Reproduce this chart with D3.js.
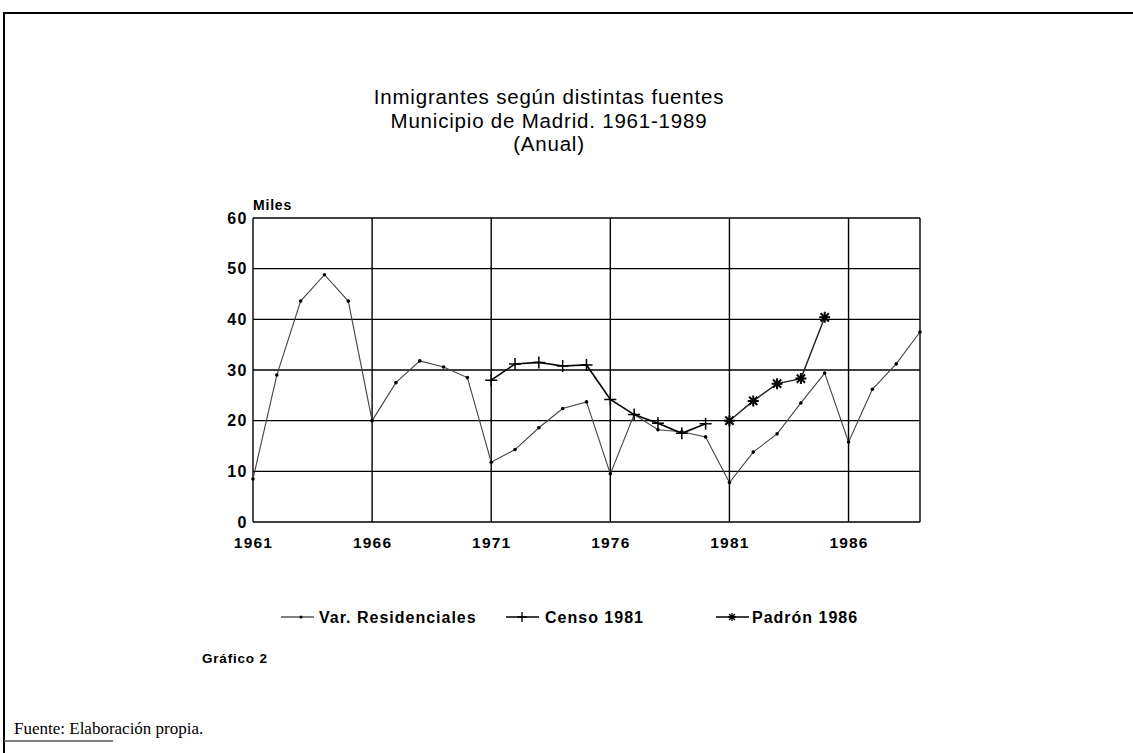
<!DOCTYPE html>
<html>
<head>
<meta charset="utf-8">
<script src="https://cdn.jsdelivr.net/npm/d3@7"></script>
<style>
  body { margin:0; background:#fff; }
  svg { display:block; }
</style>
</head>
<body>
<script>
// Inmigrantes segun distintas fuentes - Madrid 1961-1989

var outerWidth = 1133,
    outerHeight = 753,
    margin = {left:253,right:213,top:218,bottom:231},
    innerWidth = outerWidth-margin.left-margin.right,
    innerHeight = outerHeight-margin.top-margin.bottom;

var titleLines = ['Inmigrantes según distintas fuentes','Municipio de Madrid. 1961-1989','(Anual)'];
var yTicks = [0,10,20,30,40,50,60];
var xTicks = [1961,1966,1971,1976,1981,1986];

var varYears = d3.range(1961,1990);
var varValues = [8.5,29,43.6,48.8,43.6,20,27.5,31.8,30.6,28.5,
                 11.8,14.3,18.6,22.4,23.7,9.5,21.2,18.2,17.8,16.8,
                 7.8,13.8,17.4,23.5,29.4,15.8,26.2,31.2,37.5];

var censoYears = [1971,1972,1973,1974,1975,1976,1977,1978,1979,1980];
var censoValues = [28,31.2,31.5,30.8,31,24.2,21.2,19.5,17.5,19.4];

var padronYears = [1981,1982,1983,1984,1985];
var padronValues = [20,23.9,27.3,28.3,40.4];

var legendLabels = ['Var. Residenciales','Censo 1981','Padrón 1986'];

var svg = d3.select('body').append('svg')
  .attr('width',outerWidth)
  .attr('height',outerHeight);

var sans = 'Liberation Sans, Arial, sans-serif';

// marco
svg.append('path')
  .attr('d','M4,753 L4,13 L1133,13')
  .attr('fill','none').attr('stroke','#000').attr('stroke-width',2);
svg.append('line')
  .attr('x1',4).attr('x2',113).attr('y1',741).attr('y2',741)
  .attr('stroke','#555').attr('stroke-width',1.5);

// titulo
svg.append('g').selectAll('text').data(titleLines).enter().append('text')
  .attr('x',549)
  .attr('y',function(d,i){return 104+i*23.5;})
  .attr('text-anchor','middle')
  .style('font-family',sans)
  .style('font-size','20.5px')
  .style('letter-spacing','0.8px')
  .text(function(d){return d;});

var g = svg.append('g')
  .attr('transform','translate('+margin.left+','+margin.top+')');

var xScale = d3.scaleLinear().domain([1961,1989]).range([0,innerWidth]);
var yScale = d3.scaleLinear().domain([0,60]).range([innerHeight,0]);

// rejilla horizontal
g.selectAll('.hgrid').data(yTicks).enter().append('line')
  .attr('class','hgrid')
  .attr('x1',0).attr('x2',innerWidth)
  .attr('y1',function(d){return yScale(d);})
  .attr('y2',function(d){return yScale(d);})
  .attr('stroke','#000').attr('stroke-width',1.4);

// rejilla vertical
g.selectAll('.vgrid').data(xTicks.concat([1989])).enter().append('line')
  .attr('class','vgrid')
  .attr('x1',function(d){return xScale(d);})
  .attr('x2',function(d){return xScale(d);})
  .attr('y1',0).attr('y2',innerHeight)
  .attr('stroke','#000').attr('stroke-width',1.4);

// ejes
var yAxis = d3.axisLeft(yScale).tickValues(yTicks).tickSize(0).tickPadding(5);
var yg = g.append('g').call(yAxis);
yg.select('.domain').remove();
yg.selectAll('text')
  .style('font-family',sans).style('font-size','16px').style('font-weight','bold')
  .style('letter-spacing','1.5px');

var xAxis = d3.axisBottom(xScale).tickValues(xTicks).tickSize(0).tickPadding(15)
  .tickFormat(d3.format('d'));
var xg = g.append('g').attr('transform','translate(0,'+innerHeight+')').call(xAxis);
xg.select('.domain').remove();
xg.selectAll('text')
  .style('font-family',sans).style('font-size','15.5px').style('font-weight','bold')
  .style('letter-spacing','1.2px');

g.append('text')
  .attr('x',0).attr('y',-8)
  .style('font-family',sans).style('font-size','14px').style('font-weight','bold')
  .style('letter-spacing','0.8px')
  .text('Miles');

// series
var line = d3.line()
  .x(function(d){return xScale(d[0]);})
  .y(function(d){return yScale(d[1]);});

var varData = d3.zip(varYears,varValues);
var censoData = d3.zip(censoYears,censoValues);
var padronData = d3.zip(padronYears,padronValues);

g.append('path').datum(varData)
  .attr('d',line).attr('fill','none')
  .attr('stroke','#444').attr('stroke-width',1.1);
g.selectAll('.dot').data(varData).enter().append('circle')
  .attr('class','dot')
  .attr('cx',function(d){return xScale(d[0]);})
  .attr('cy',function(d){return yScale(d[1]);})
  .attr('r',1.8).attr('fill','#000');

g.append('path').datum(censoData)
  .attr('d',line).attr('fill','none')
  .attr('stroke','#000').attr('stroke-width',1.6);

function plusPath(s){ return 'M'+(-s)+',0H'+s+'M0,'+(-s)+'V'+s; }
function starPath(s){
  var d = 'M'+(-s)+',0H'+s+'M0,'+(-s)+'V'+s;
  var k = s*0.75;
  d += 'M'+(-k)+','+(-k)+'L'+k+','+k+'M'+(-k)+','+k+'L'+k+','+(-k);
  return d;
}

g.selectAll('.plus').data(censoData).enter().append('path')
  .attr('class','plus')
  .attr('transform',function(d){return 'translate('+xScale(d[0])+','+yScale(d[1])+')';})
  .attr('d',plusPath(6))
  .attr('stroke','#000').attr('stroke-width',1.5).attr('fill','none');

g.append('path').datum(padronData)
  .attr('d',line).attr('fill','none')
  .attr('stroke','#222').attr('stroke-width',1.4);
g.selectAll('.star').data(padronData).enter().append('path')
  .attr('class','star')
  .attr('transform',function(d){return 'translate('+xScale(d[0])+','+yScale(d[1])+')';})
  .attr('d',starPath(5.5))
  .attr('stroke','#000').attr('stroke-width',2).attr('fill','none');

// leyenda
var legendX = [281,506,716];
var leg = svg.append('g').selectAll('g').data(legendLabels).enter().append('g')
  .attr('transform',function(d,i){return 'translate('+legendX[i]+',617)';});
leg.append('line')
  .attr('x1',0).attr('x2',33).attr('y1',0).attr('y2',0)
  .attr('stroke','#000').attr('stroke-width',function(d,i){return i===0?1:1.4;});
leg.each(function(d,i){
  var s = d3.select(this);
  if(i===0){
    s.append('circle').attr('cx',20).attr('cy',0).attr('r',1.5).attr('fill','#000');
  } else if(i===1){
    s.append('path').attr('transform','translate(16,0)').attr('d',plusPath(5))
      .attr('stroke','#000').attr('stroke-width',1.3);
  } else {
    s.append('path').attr('transform','translate(16,0)').attr('d',starPath(4))
      .attr('stroke','#000').attr('stroke-width',1.3);
  }
});
leg.append('text')
  .attr('x',function(d,i){return i===0?38:i===1?39:36;})
  .attr('y',6)
  .style('font-family',sans).style('font-size','16px').style('font-weight','bold')
  .style('letter-spacing','1px')
  .text(function(d){return d;});

svg.append('text')
  .attr('x',202).attr('y',663)
  .style('font-family',sans).style('font-size','13.5px').style('font-weight','bold')
  .style('letter-spacing','0.8px')
  .text('Gráfico 2');

svg.append('text')
  .attr('x',14).attr('y',734)
  .style('font-family','Liberation Serif, Times New Roman, serif').style('font-size','17px')
  .text('Fuente: Elaboración propia.');
</script>
</body>
</html>
